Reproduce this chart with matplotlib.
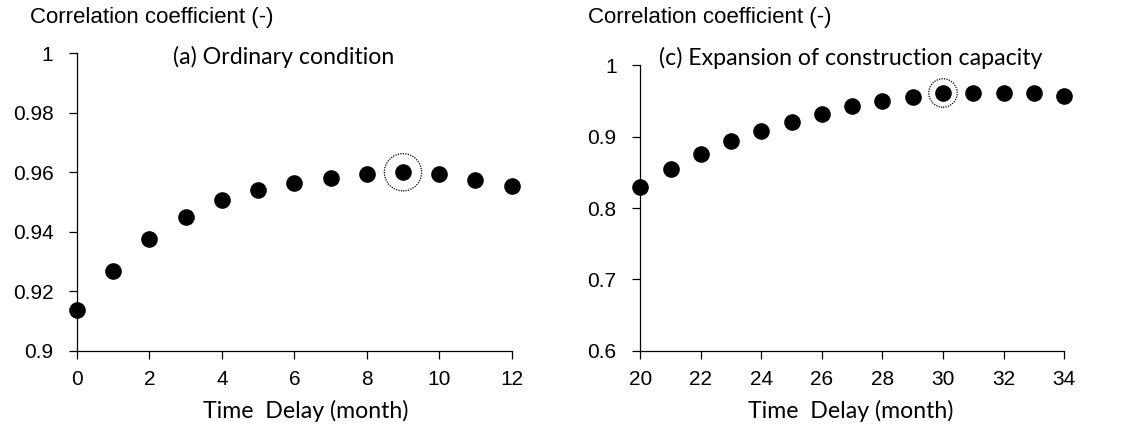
import numpy as np
import matplotlib.pyplot as plt

# (a) ordinary condition
delay_a = [0, 1, 2, 3, 4, 5, 6, 7, 8, 9, 10, 11, 12]
corr_a = [0.9137, 0.9269, 0.9375, 0.9450, 0.9506, 0.9539, 0.9564,
          0.9582, 0.9594, 0.9600, 0.9593, 0.9575, 0.9555]
best_a = 9

# (c) expansion of construction capacity
delay_c = [20, 21, 22, 23, 24, 25, 26, 27, 28, 29, 30, 31, 32, 33, 34]
corr_c = [0.829, 0.854, 0.875, 0.894, 0.908, 0.920, 0.932, 0.9425,
          0.950, 0.9556, 0.9612, 0.9616, 0.9616, 0.9607, 0.9565]
best_c = 30

plt.rcParams['font.family'] = ['Liberation Sans', 'DejaVu Sans']
title_font = ['Lato', 'DejaVu Sans']

fig = plt.figure(figsize=(11.23, 4.38), dpi=100)
ax1 = fig.add_axes([0.0686, 0.1993, 0.387, 0.679])
ax2 = fig.add_axes([0.5702, 0.1993, 0.3773, 0.6516])


def panel(ax, x, y, best, xlim, ylim, yticks, title, title_x, title_y, ring, label_xy):
    ax.scatter(x, y, s=120, color='black', zorder=3, clip_on=False)
    i = x.index(best)
    ax.scatter([best], [y[i]], s=ring, facecolors='none',
               edgecolors='black', linewidths=0.9, linestyles=(0, (1, 1)),
               zorder=4, clip_on=False)
    ax.set_xlim(*xlim)
    ax.set_ylim(*ylim)
    ax.set_xticks(np.arange(xlim[0], xlim[1] + 1, 2))
    ax.set_yticks(yticks)
    ax.set_yticklabels(['%g' % v for v in yticks])
    for s in ['top', 'right']:
        ax.spines[s].set_visible(False)
    for s in ['left', 'bottom']:
        ax.spines[s].set_linewidth(0.9)
    ax.tick_params(direction='out', length=6, width=0.9, labelsize=15)
    ax.tick_params(axis='y', pad=11)
    ax.tick_params(axis='x', pad=8)
    ax.set_xlabel('Time  Delay (month)', family=title_font, fontsize=16.7)
    ax.xaxis.set_label_coords(*label_xy)
    ax.text(title_x, title_y, title, transform=ax.transAxes, family=title_font,
            fontsize=16.7, ha='left', va='center')


panel(ax1, delay_a, corr_a, best_a, (0, 12), (0.9, 1.0),
      [0.9, 0.92, 0.94, 0.96, 0.98, 1.0],
      '(a) Ordinary condition', 0.22, 0.987, 720, (0.525, -0.165))
panel(ax2, delay_c, corr_c, best_c, (20, 34), (0.6, 1.0),
      [0.6, 0.7, 0.8, 0.9, 1.0],
      '(c) Expansion of construction capacity', 0.045, 1.025, 420, (0.497, -0.172))

fig.text(30 / 1123, 1 - 18 / 438, 'Correlation coefficient (-)', fontsize=16, va='center')
fig.text(588 / 1123, 1 - 18 / 438, 'Correlation coefficient (-)', fontsize=16, va='center')

fig.savefig('out.png', dpi=100)
